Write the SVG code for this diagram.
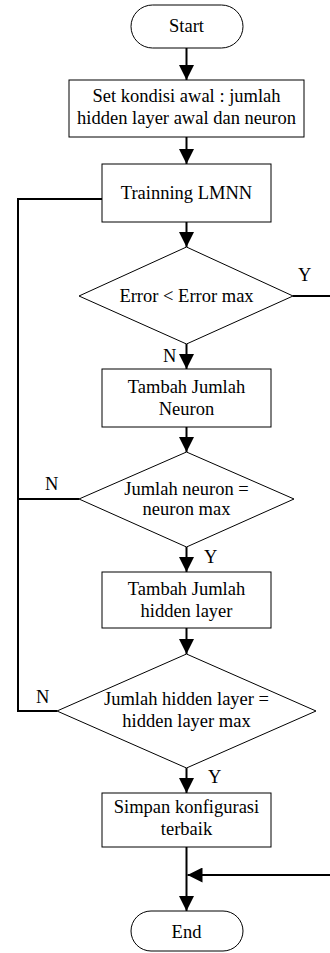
<svg xmlns="http://www.w3.org/2000/svg" width="330" height="953" viewBox="0 0 330 953">
<style>
.n{fill:#fff;stroke:#000;stroke-width:1}
.t{font-family:"Liberation Serif","Times New Roman",serif;font-size:18.5px;fill:#000;text-anchor:middle}
.l{font-family:"Liberation Serif","Times New Roman",serif;font-size:18.5px;fill:#000}
.c{fill:none;stroke:#000;stroke-width:2}
</style>
<defs>
<marker id="ah" markerUnits="userSpaceOnUse" markerWidth="15" markerHeight="15" viewBox="0 0 15 15" refX="15" refY="7.5" orient="auto">
<path d="M0,0 L15,7.5 L0,15 Z" fill="#000"/>
</marker>
</defs>
<rect width="330" height="953" fill="#fff"/>
<g id="connectors">
<line class="c" x1="186.5" y1="48" x2="186.5" y2="80" marker-end="url(#ah)"/>
<line class="c" x1="186.5" y1="137" x2="186.5" y2="164" marker-end="url(#ah)"/>
<line class="c" x1="186.5" y1="222" x2="186.5" y2="247" marker-end="url(#ah)"/>
<line class="c" x1="186.5" y1="344" x2="186.5" y2="369" marker-end="url(#ah)"/>
<line class="c" x1="186.5" y1="427" x2="186.5" y2="452" marker-end="url(#ah)"/>
<line class="c" x1="186.5" y1="547" x2="186.5" y2="572" marker-end="url(#ah)"/>
<line class="c" x1="186.5" y1="628" x2="186.5" y2="654" marker-end="url(#ah)"/>
<line class="c" x1="186.5" y1="768" x2="186.5" y2="793" marker-end="url(#ah)"/>
<line class="c" x1="186.5" y1="847" x2="186.5" y2="911" marker-end="url(#ah)"/>
<polyline class="c" points="102,199 18,199 18,711 57,711"/>
<line class="c" x1="79" y1="499" x2="18" y2="499"/>
<line class="c" x1="293" y1="296" x2="331" y2="296"/>
<line class="c" x1="331" y1="875" x2="187.5" y2="875" marker-end="url(#ah)"/>
<text class="l" x="298" y="281">Y</text>
<text class="l" x="163" y="362">N</text>
<text class="l" x="45" y="490">N</text>
<text class="l" x="204" y="563">Y</text>
<text class="l" x="36" y="703">N</text>
<text class="l" x="208" y="783">Y</text>
</g>
<g id="start">
<rect class="n" x="131" y="5" width="112" height="43" rx="21.5"/>
<text class="t" x="186.5" y="32">Start</text>
</g>
<g id="init">
<rect class="n" x="69" y="80" width="235" height="57"/>
<text class="t" x="186.5" y="102">Set kondisi awal : jumlah</text>
<text class="t" x="186.5" y="124">hidden layer awal dan neuron</text>
</g>
<g id="training">
<rect class="n" x="102" y="164" width="169" height="58"/>
<text class="t" x="186.5" y="199">Trainning LMNN</text>
</g>
<g id="errorCheck">
<polygon class="n" points="186.5,247 293,296 186.5,344 79,296"/>
<text class="t" x="186.5" y="302">Error &lt; Error max</text>
</g>
<g id="addNeuron">
<rect class="n" x="102" y="369" width="169" height="58"/>
<text class="t" x="186.5" y="393">Tambah Jumlah</text>
<text class="t" x="186.5" y="415">Neuron</text>
</g>
<g id="neuronCheck">
<polygon class="n" points="186.5,452 294,499 186.5,547 79,499"/>
<text class="t" x="186.5" y="495">Jumlah neuron =</text>
<text class="t" x="186.5" y="515">neuron max</text>
</g>
<g id="addLayer">
<rect class="n" x="102" y="572" width="169" height="56"/>
<text class="t" x="186.5" y="595">Tambah Jumlah</text>
<text class="t" x="186.5" y="617">hidden layer</text>
</g>
<g id="layerCheck">
<polygon class="n" points="186.5,654 316,711 186.5,768 57,711"/>
<text class="t" x="186.5" y="705">Jumlah hidden layer =</text>
<text class="t" x="186.5" y="727">hidden layer max</text>
</g>
<g id="save">
<rect class="n" x="102" y="793" width="169" height="54"/>
<text class="t" x="186.5" y="813">Simpan konfigurasi</text>
<text class="t" x="186.5" y="835">terbaik</text>
</g>
<g id="end">
<rect class="n" x="131" y="911" width="112" height="40" rx="20"/>
<text class="t" x="186.5" y="938">End</text>
</g>
</svg>
